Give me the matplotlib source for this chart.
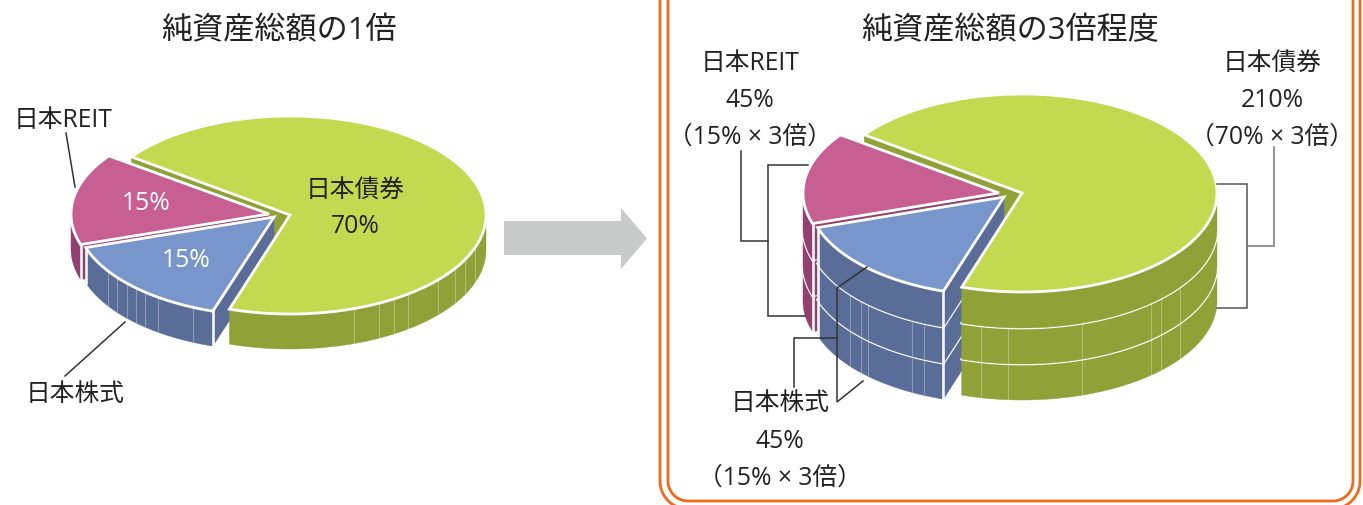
import numpy as np
import matplotlib
matplotlib.use("Agg")
import matplotlib.pyplot as plt
from matplotlib.patches import Polygon

plt.rcParams['font.family'] = ['Open Sans', 'Noto Sans CJK JP', 'DejaVu Sans']

# slice order clockwise from the start angle: bond, stock, reit
slice_names = ['日本債券', '日本株式', '日本REIT']
left_values = [70, 15, 15]
right_values = [210, 45, 45]
start_angle = 306

top_colors = ['#C3D950', '#7896CB', '#C75F93']
wall_colors = ['#8FA137', '#5A6D98', '#91406F']
# pink first, then blue, the green rim and top go over the blue wall
slice_z = {2: 1, 1: 20, 0: 50}
txt = '#222222'
orange = '#EE6A1F'

fig = plt.figure(figsize=(13.63, 5.06), dpi=100)
ax = fig.add_axes([0, 0, 1, 1])
ax.set_xlim(0, 1363)
ax.set_ylim(506, 0)
ax.axis('off')


def ell(c, rx, ry, a):
    # a is degrees clockwise from the top of the ellipse
    a = np.radians(a)
    return np.column_stack([c[0] + rx * np.sin(a), c[1] - ry * np.cos(a)])


def wall(pts, depth, color, z):
    low = pts[::-1] + [0, depth]
    ax.add_patch(Polygon(np.vstack([pts, low]), closed=True, fc=color, ec=color, lw=0.3, zorder=z))


def draw_pie(values, centers, radii, ry, depth, layers, stripes, stripe_layers):
    angles = start_angle + np.concatenate([[0], np.cumsum(values)]) * 360.0 / sum(values)
    for i in slice_z:
        z = slice_z[i]
        c = centers[i]
        rx = radii[i]
        a0, a1 = angles[i], angles[i + 1]
        arc = np.linspace(a0, a1, 240)
        top = ell(c, rx, ry, arc)
        apex = np.array([c])
        e0 = ell(c, rx, ry, np.array([a0]))
        e1 = ell(c, rx, ry, np.array([a1]))
        # front part of the rim only
        m = np.mod(arc, 360)
        front = ell(c, rx, ry, arc[(m >= 90) & (m <= 270)])

        for k in range(layers - 1, -1, -1):
            off = np.array([0, k * depth])
            # the radial face at a0 is the one that looks at the viewer
            wall(np.vstack([apex, e0]) + off, depth, wall_colors[i], 0 if i == 0 else z)
            wall(front + off, depth, wall_colors[i], z)
            if k in stripe_layers:
                for s in stripes[i]:
                    p = ell(c, rx, ry, np.array([float(s)]))[0] + off
                    ax.plot([p[0], p[0]], [p[1] + 1, p[1] + depth - 1], color='white', lw=0.8, alpha=0.3, zorder=z)
            if k > 0:
                ax.plot(front[:, 0] + off[0], front[:, 1] + off[1], color='white', lw=2.0, zorder=z)
                if i != 0:
                    ax.plot([apex[0, 0], e0[0, 0]], [apex[0, 1] + off[1], e0[0, 1] + off[1]], color='white', lw=2.0, zorder=z)
            z += 1

        # white corner edges of the exploded slices
        if i != 0:
            ax.plot([e0[0, 0], e0[0, 0]], [e0[0, 1], e0[0, 1] + layers * depth], color='white', lw=1.8, zorder=z)
        if i == 1:
            ax.plot([e1[0, 0], e1[0, 0]], [e1[0, 1], e1[0, 1] + layers * depth], color='white', lw=1.8, zorder=z)

        ax.add_patch(Polygon(np.vstack([apex, top]), closed=True, fc=top_colors[i], ec='white', lw=2.0,
                             joinstyle='miter', zorder=z))


def frame(x0, x1, y0, y1, r):
    # open at the top, the picture cuts it there
    t = np.linspace(0, np.pi / 2, 30)
    xs = np.concatenate([[x0], x0 + r - r * np.cos(t), x1 - r + r * np.sin(t), [x1]])
    ys = np.concatenate([[y0], y1 - r + r * np.sin(t), y1 - r + r * np.cos(t), [y0]])
    ax.plot(xs, ys, color=orange, lw=2.0, zorder=120)


def label(x, y, s, size=17.8, color=txt):
    ax.text(x, y + 1.5, s, fontsize=size, color=color, ha='center', va='center', zorder=200)


def leader(xs, ys, color='#333333', lw=1.1):
    ax.plot(xs, ys, color=color, lw=lw, solid_joinstyle='miter', zorder=150)


# left pie
draw_pie(left_values,
         [(290, 216), (274, 218), (269, 215)],
         [196, 198, 198], 99, 35, 1,
         [[161, 153, 148, 143, 131, 122.5, 116.6, 109], [237, 232.5, 228, 224, 220.5, 216, 204], []],
         [0])

# right pie
draw_pie(right_values,
         [(1022, 194), (1004, 198), (999, 194)],
         [195, 196, 196], 99, 36, 3,
         [[192, 184, 162, 138.5, 134.4, 126], [232, 227, 224, 208, 204], []],
         [1, 2])

# arrow between the pies
ax.add_patch(Polygon([(504, 222), (621, 222), (621, 209), (647, 239.5), (621, 270), (621, 256), (504, 256)],
                     closed=True, fc='#C9CBCA', ec='none'))

# double frame
frame(668, 1353, -5, 502, 20)
frame(660, 1360, -5, 510, 28)

# titles
label(279, 30, '純資産総額の1倍', 22.4)
label(1010, 30, '純資産総額の3倍程度', 22.4)

# left labels
label(63, 119, slice_names[2])
label(75, 393, slice_names[1])
label(355, 189, slice_names[0])
label(355, 225, '%d%%' % left_values[0])
label(146, 202, '%d%%' % left_values[2], color='white')
label(186, 259, '%d%%' % left_values[1], color='white')
leader([66, 75], [134, 188])
leader([125, 65], [323, 377])

# right labels
label(750, 62, slice_names[2])
label(750, 99, '%d%%' % right_values[2])
label(750, 136, '（%d%% × 3倍）' % left_values[2])
label(1272, 62, slice_names[0])
label(1272, 99, '%d%%' % right_values[0])
label(1272, 136, '（%d%% × 3倍）' % left_values[0])
label(780, 402, slice_names[1])
label(780, 440, '%d%%' % right_values[1])
label(780, 477, '（%d%% × 3倍）' % left_values[1])

leader([808, 768, 768, 805], [166, 166, 317, 317])
leader([741, 741, 768], [152, 242, 242])
leader([867, 837, 837, 863], [268, 289, 403, 382])
leader([794, 794, 837], [388, 339, 339])
leader([1217, 1247, 1247, 1217], [185, 185, 309, 309], '#555555')
leader([1247, 1274, 1274], [247, 247, 148], '#777777')

fig.savefig('out.png', dpi=100)
